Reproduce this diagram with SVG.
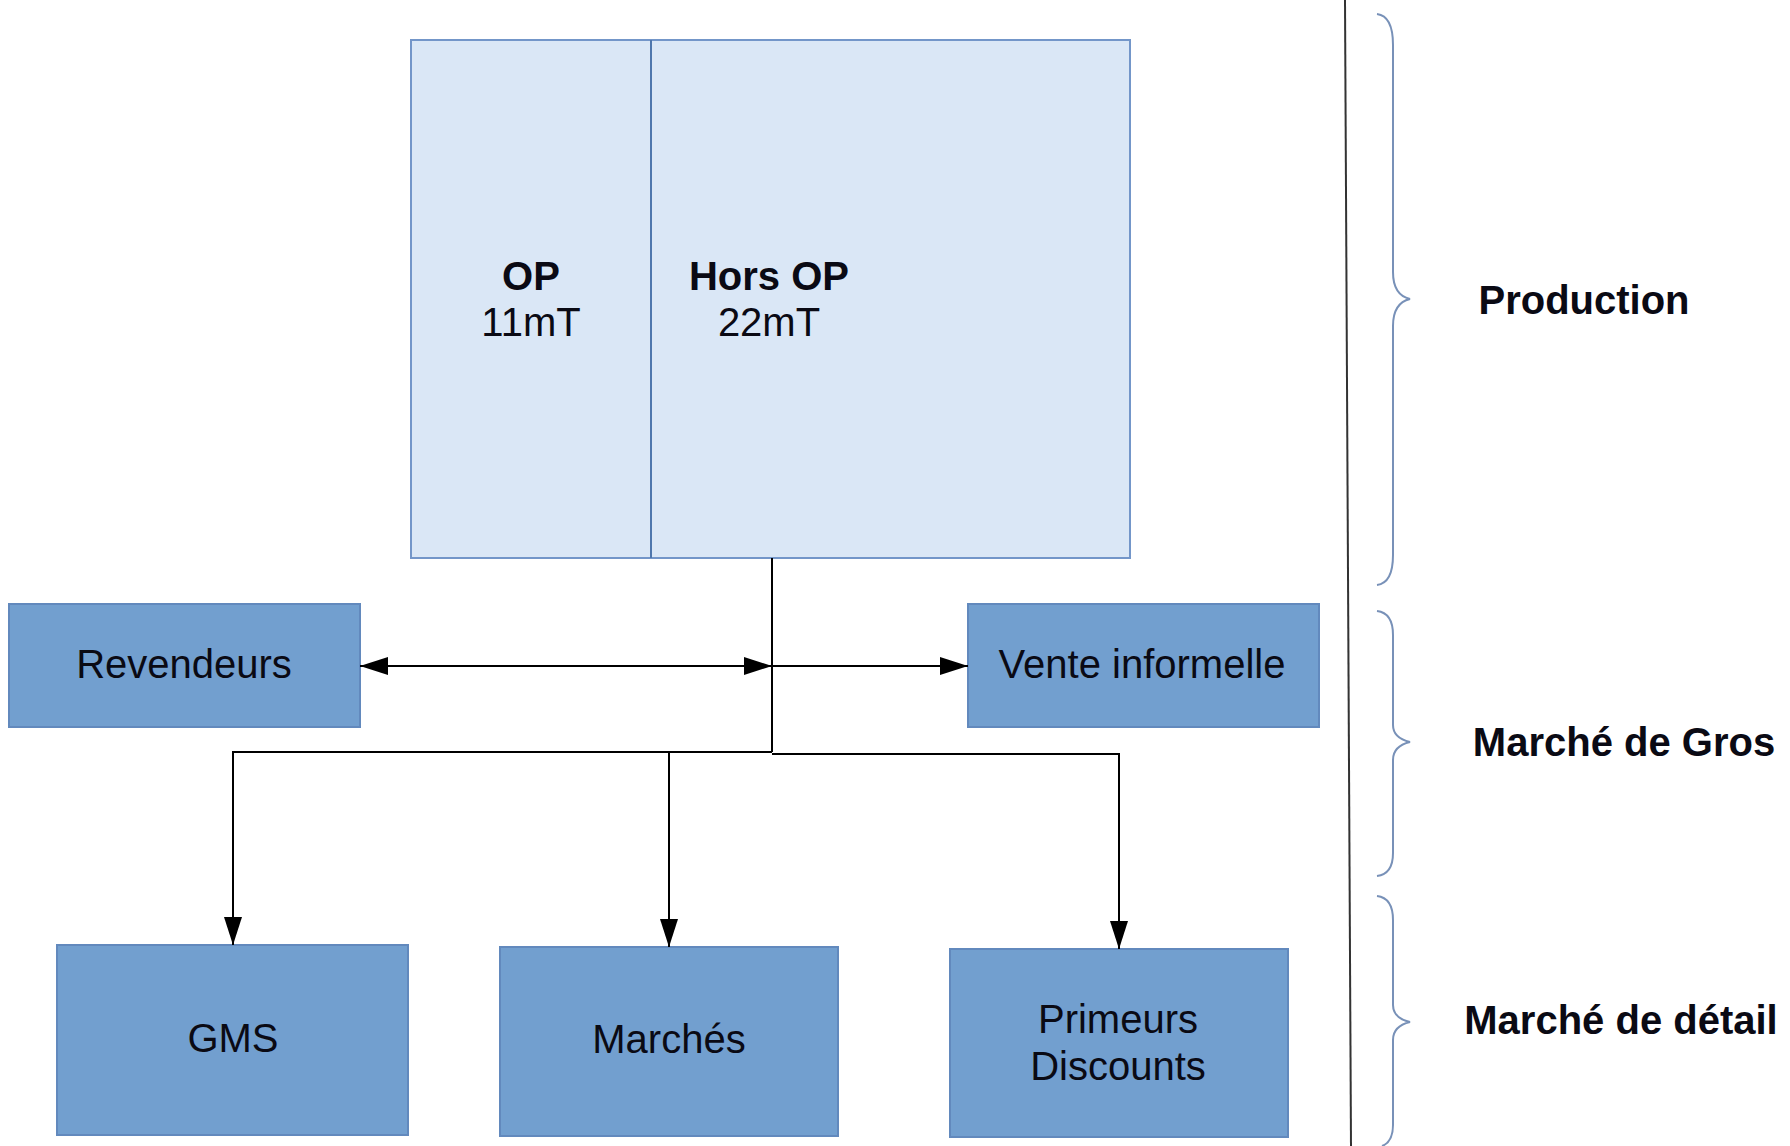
<svg xmlns="http://www.w3.org/2000/svg" width="1790" height="1146" viewBox="0 0 1790 1146">
<defs>
<style>
text{font-family:"Liberation Sans",Arial,sans-serif;font-size:40px;fill:#0a0a14;text-anchor:middle}
.b{font-weight:bold}
.node{fill:#729fcf;stroke:#6289bd;stroke-width:2}
.big{fill:#dae7f6;stroke:#7396c9;stroke-width:2}
.conn{fill:none;stroke:#000;stroke-width:2}
.brace{fill:none;stroke:#7891b8;stroke-width:2}
</style>
<marker id="arr" markerUnits="userSpaceOnUse" markerWidth="28" markerHeight="18" refX="28" refY="9" orient="auto-start-reverse">
<path d="M0,0 L28,9 L0,18 z" fill="#000"/>
</marker>
</defs>
<rect width="1790" height="1146" fill="#fff"/>
<g id="production">
<rect class="big" x="411" y="40" width="719" height="518"/>
<line x1="651" y1="40" x2="651" y2="558" stroke="#4f77ad" stroke-width="2"/>
<text class="b" x="531" y="290">OP</text>
<text x="531" y="336">11mT</text>
<text class="b" x="769" y="290">Hors OP</text>
<text x="769" y="336">22mT</text>
</g>
<g id="revendeurs">
<rect class="node" x="9" y="604" width="351" height="123"/>
<text x="184" y="678">Revendeurs</text>
</g>
<g id="vente">
<rect class="node" x="968" y="604" width="351" height="123"/>
<text x="1142" y="678">Vente informelle</text>
</g>
<g id="gms">
<rect class="node" x="57" y="945" width="351" height="190"/>
<text x="233" y="1052">GMS</text>
</g>
<g id="marches">
<rect class="node" x="500" y="947" width="338" height="189"/>
<text x="669" y="1053">Marchés</text>
</g>
<g id="primeurs">
<rect class="node" x="950" y="949" width="338" height="188"/>
<text x="1118" y="1033">Primeurs</text>
<text x="1118" y="1080">Discounts</text>
</g>
<g id="connectors">
<path class="conn" d="M772,558 V752"/>
<path class="conn" d="M360,666 H772" marker-start="url(#arr)" marker-end="url(#arr)"/>
<path class="conn" d="M772,666 H968" marker-end="url(#arr)"/>
<path class="conn" d="M772,752 H233 V945" marker-end="url(#arr)"/>
<path class="conn" d="M669,752 V947" marker-end="url(#arr)"/>
<path class="conn" d="M772,754 H1119 V949" marker-end="url(#arr)"/>
</g>
<g id="legend">
<line x1="1345" y1="0" x2="1351" y2="1146" stroke="#333" stroke-width="2"/>
<path class="brace" d="M1377,14 Q1393,16 1393,45 V272 Q1393,295 1410,299 Q1393,303 1393,326 V555 Q1393,583 1377,585"/>
<path class="brace" d="M1377,611 Q1393,613 1393,635 V725 Q1393,738 1410,742 Q1393,746 1393,760 V853 Q1393,874 1377,876"/>
<path class="brace" d="M1377,896 Q1393,898 1393,920 V1005 Q1393,1018 1410,1022 Q1393,1026 1393,1040 V1125 Q1393,1142 1382,1146"/>
<text class="b" x="1584" y="314">Production</text>
<text class="b" x="1624" y="756">Marché de Gros</text>
<text class="b" x="1621" y="1034">Marché de détail</text>
</g>
</svg>
